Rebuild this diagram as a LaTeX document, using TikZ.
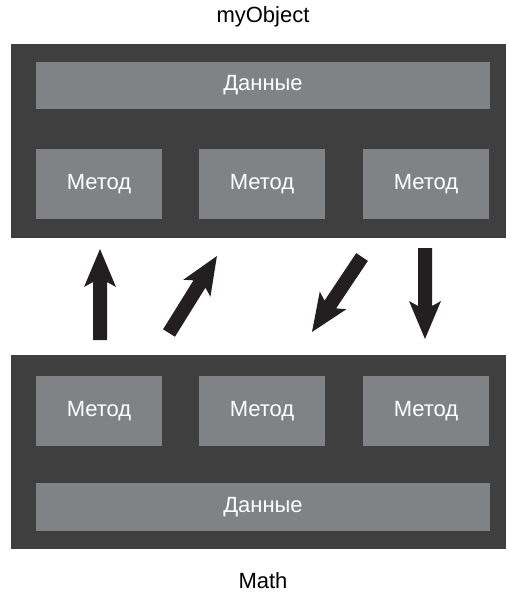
\documentclass[tikz,border=0pt]{standalone}
\usepackage{fontspec}
\setmainfont{Liberation Sans}
\definecolor{darkbg}{HTML}{3F3F3F}
\definecolor{boxgray}{HTML}{818285}
\definecolor{arrowblk}{HTML}{231F20}
\newcommand\fatarrow[3]{% start coord, angle, length
  \begin{scope}[shift={(#1)},rotate=#2]
    \fill[arrowblk] (0,-7) -- ({#3-33},-7) -- ({#3-38},-16) -- (#3,0)
      -- ({#3-38},16) -- ({#3-33},7) -- (0,7) -- cycle;
  \end{scope}}
\begin{document}
\begin{tikzpicture}[x=1pt,y=-1pt,
  panel/.style={fill=darkbg,draw=none},
  inner/.style={fill=boxgray,draw=none,text=white,font=\fontsize{22}{26}\selectfont},
  lbl/.style={text=black,font=\fontsize{22}{26}\selectfont}]
\useasboundingbox (0,0) rectangle (506,596);
% titles
\node[lbl] (t1) at (263,17) {myObject};
\node[lbl] (t2) at (263,581) {Math};
% top panel
\fill[panel] (11,44) rectangle (506,238);
\node[inner,minimum width=454pt,minimum height=47pt] (d1) at (263,85.5) {Данные};
\node[inner,minimum width=126pt,minimum height=70pt] (m1) at (99,184) {Метод};
\node[inner,minimum width=126pt,minimum height=70pt] (m2) at (262,184) {Метод};
\node[inner,minimum width=126pt,minimum height=70pt] (m3) at (426,184) {Метод};
% bottom panel
\fill[panel] (11,355) rectangle (506,549);
\node[inner,minimum width=126pt,minimum height=70pt] (n1) at (99,411) {Метод};
\node[inner,minimum width=126pt,minimum height=70pt] (n2) at (262,411) {Метод};
\node[inner,minimum width=126pt,minimum height=70pt] (n3) at (426,411) {Метод};
\node[inner,minimum width=454pt,minimum height=48pt] (d2) at (263,507) {Данные};
% arrows
\coordinate (a1s) at (100,340);
\coordinate (a2s) at (169,333);
\coordinate (a3s) at (362,257);
\coordinate (a4s) at (425,248);
\fatarrow{a1s}{90}{91}
\fatarrow{a2s}{58.1}{90.7}
\fatarrow{a3s}{236.3}{90.1}
\fatarrow{a4s}{270}{91}
\end{tikzpicture}
\end{document}
